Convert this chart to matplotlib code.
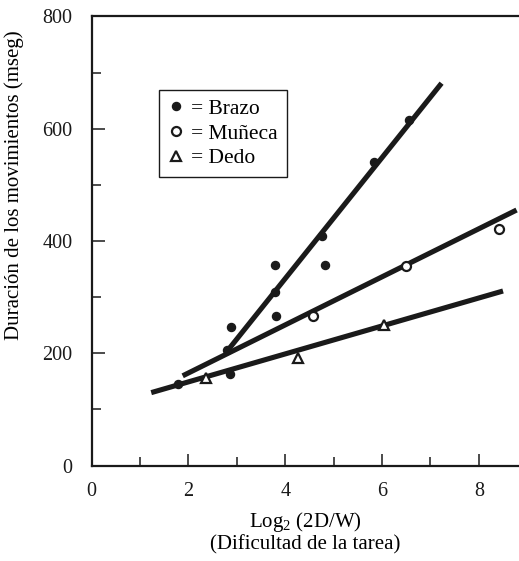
import matplotlib
matplotlib.use('Agg')
import matplotlib.pyplot as plt
from matplotlib.ticker import MultipleLocator

plt.rcParams['font.family'] = ['Liberation Serif', 'DejaVu Serif']
plt.rcParams['mathtext.fontset'] = 'custom'
plt.rcParams['mathtext.rm'] = 'Liberation Serif'

# puntos
brazo_x = [1.78, 2.85, 2.88, 2.80, 3.79, 3.81, 3.79, 4.75, 4.83, 5.83, 6.56]
brazo_y = [145, 164, 247, 206, 357, 267, 309, 409, 357, 540, 616]
muneca_x = [4.58, 6.49, 8.42]
muneca_y = [267, 356, 422]
dedo_x = [2.36, 4.27, 6.03]
dedo_y = [156, 191, 251]

# rectas de ajuste: (pendiente, ordenada, x inicio, x fin)
brazo_fit = [107.7, -97.5, 2.79, 7.23]
muneca_fit = [42.8, 79.5, 1.88, 8.78]
dedo_fit = [24.9, 99.4, 1.23, 8.50]

fig = plt.figure(figsize=(5.19, 5.61), dpi=100)
ax = fig.add_axes([0.1767, 0.170, 1.0 - 0.1767, 0.9706 - 0.170])

for fit in (brazo_fit, muneca_fit, dedo_fit):
    m, b, x0, x1 = fit
    ax.plot([x0, x1], [m * x0 + b, m * x1 + b], color='#1a1a1a', lw=3.7,
            solid_capstyle='butt', zorder=2)

ax.plot(brazo_x, brazo_y, 'o', color='#1a1a1a', ms=5.8, ls='none',
        zorder=3, label='= Brazo')
ax.plot(muneca_x, muneca_y, 'o', mfc='white', mec='#1a1a1a', mew=1.6,
        ms=6.5, ls='none', zorder=3, label='= Muñeca')
ax.plot(dedo_x, dedo_y, '^', mfc='white', mec='#1a1a1a', mew=1.6,
        ms=6.5, ls='none', zorder=3, label='= Dedo')

ax.set_xlim(0, 8.83)
ax.set_ylim(0, 800)
ax.xaxis.set_major_locator(MultipleLocator(2))
ax.xaxis.set_minor_locator(MultipleLocator(1))
ax.yaxis.set_major_locator(MultipleLocator(200))
ax.yaxis.set_minor_locator(MultipleLocator(100))
ax.tick_params(which='major', direction='in', length=9, width=1.1,
               labelsize=14.5, pad=14, colors='#1a1a1a')
ax.tick_params(which='minor', direction='in', length=6.5, width=1.1,
               colors='#1a1a1a')
ax.tick_params(axis='x', which='major', pad=12)

ax.spines['right'].set_visible(False)
for s in ('left', 'bottom', 'top'):
    ax.spines[s].set_linewidth(1.6)
    ax.spines[s].set_color('#1a1a1a')

ax.set_xlabel('Log$_2$ (2D/W)\n(Dificultad de la tarea)', fontsize=15,
              labelpad=6, linespacing=1.1)
ax.set_ylabel('Duración de los movimientos (mseg)', fontsize=15)
ax.yaxis.set_label_coords(-0.158, 0.625)

leg = ax.legend(loc='upper left', bbox_to_anchor=(0.1575, 0.836),
                borderaxespad=0, fancybox=False, edgecolor='#1a1a1a',
                framealpha=1, fontsize=15.5, handlelength=0.75,
                handletextpad=0.35, labelspacing=0.22, borderpad=0.4)
leg.get_frame().set_linewidth(1.0)

fig.savefig('out.png', dpi=100)
